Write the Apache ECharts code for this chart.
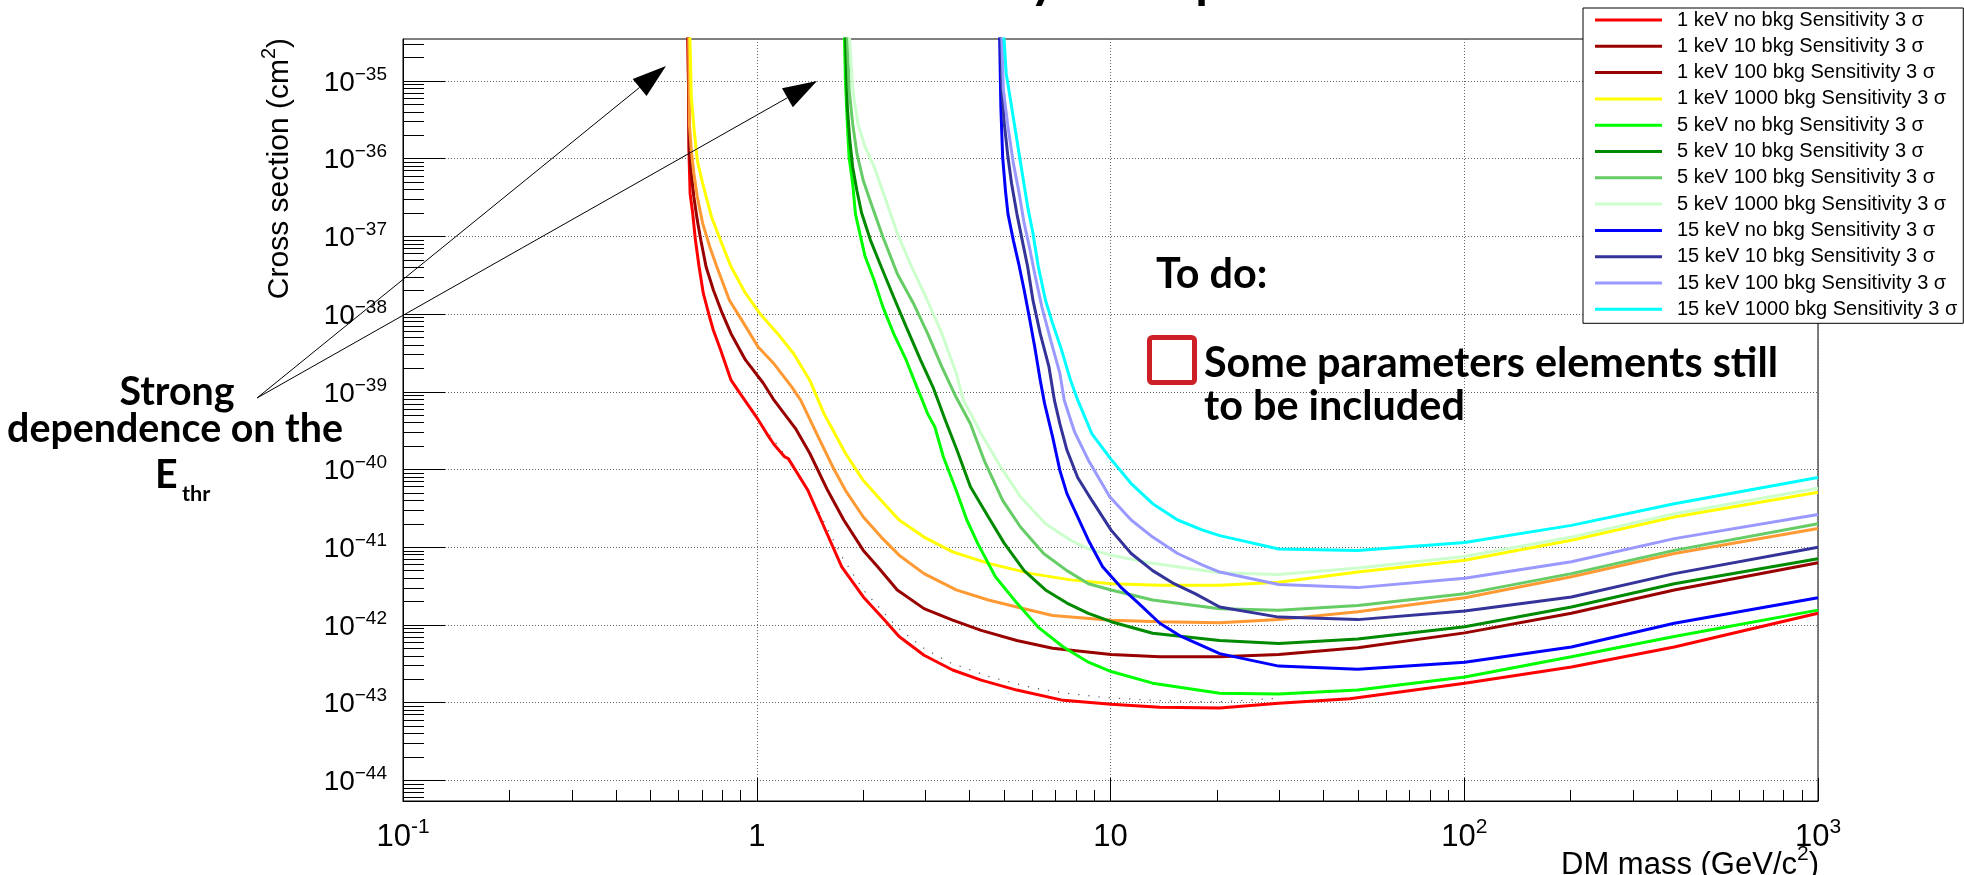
<!DOCTYPE html>
<html>
<head>
<meta charset="utf-8">
<script src="https://cdn.jsdelivr.net/npm/echarts@6/dist/echarts.min.js"></script>
<style>
html,body{margin:0;padding:0;background:#fff;}
#chart{width:1964px;height:875px;}
</style>
</head>
<body>
<div id="chart"></div>
<script>
// ---------------- data ----------------
const xTickValues = [0.1, 1, 10, 100, 1000];
const yTickValues = [1e-44, 1e-43, 1e-42, 1e-41, 1e-40, 1e-39, 1e-38, 1e-37, 1e-36, 1e-35];
const xRange = [0.1, 1000];
const yRange = [5.42e-45, 3.47e-35];

const seriesNames = [
  '1 keV no bkg Sensitivity 3 \u03c3',
  '1 keV 10 bkg Sensitivity 3 \u03c3',
  '1 keV 100 bkg Sensitivity 3 \u03c3',
  '1 keV 1000 bkg Sensitivity 3 \u03c3',
  '5 keV no bkg Sensitivity 3 \u03c3',
  '5 keV 10 bkg Sensitivity 3 \u03c3',
  '5 keV 100 bkg Sensitivity 3 \u03c3',
  '5 keV 1000 bkg Sensitivity 3 \u03c3',
  '15 keV no bkg Sensitivity 3 \u03c3',
  '15 keV 10 bkg Sensitivity 3 \u03c3',
  '15 keV 100 bkg Sensitivity 3 \u03c3',
  '15 keV 1000 bkg Sensitivity 3 \u03c3'
];

// [DM mass (GeV/c^2), cross section (cm^2)]
const e1_noBkg = [[0.636,1e-34],[0.641,1.02e-35],[0.644,1.0e-36],[0.648,3.55e-37],[0.659,2.0e-37],[0.671,8.9e-38],[0.687,4.07e-38],[0.706,1.86e-38],[0.736,9.1e-39],[0.754,6.2e-39],[0.790,3.47e-39],[0.846,1.41e-39],[0.898,9.5e-40],[0.996,4.8e-40],[1.067,2.9e-40],[1.119,2.1e-40],[1.200,1.45e-40],[1.228,1.38e-40],[1.395,5.4e-41],[1.550,1.82e-41],[1.739,5.6e-42],[2.001,2.29e-42],[2.300,1.15e-42],[2.526,7.1e-43],[2.971,4.07e-43],[3.579,2.63e-43],[4.309,1.95e-43],[5.433,1.45e-43],[7.357,1.07e-43],[10.04,9.5e-44],[13.78,8.7e-44],[20.36,8.5e-44],[29.89,9.8e-44],[47.47,1.12e-43],[100.3,1.78e-43],[200.9,2.88e-43],[392.4,5.2e-43],[1000,1.41e-42]];
const e1_10bkg = [[0.638,1e-34],[0.644,1.29e-36],[0.653,6.5e-37],[0.664,3.24e-37],[0.679,1.62e-37],[0.695,8.9e-38],[0.719,4.07e-38],[0.754,2.04e-38],[0.799,1.02e-38],[0.846,5.6e-39],[0.929,2.57e-39],[1.044,1.29e-39],[1.119,7.8e-40],[1.286,3.39e-40],[1.412,1.62e-40],[1.586,5.4e-41],[1.762,2.24e-41],[2.001,9.1e-42],[2.197,5.6e-42],[2.496,2.82e-42],[2.971,1.62e-42],[3.579,1.15e-42],[4.309,8.5e-43],[5.433,6.3e-43],[6.86,5.0e-43],[10.04,4.17e-43],[13.78,3.89e-43],[20.36,3.89e-43],[29.89,4.17e-43],[50.0,5.1e-43],[100.3,7.9e-43],[200.9,1.41e-42],[392.4,2.82e-42],[1000,6.3e-42]];
const e1_100bkg = [[0.641,1e-34],[0.645,2.82e-36],[0.653,1.29e-36],[0.664,6.5e-37],[0.679,3.24e-37],[0.703,1.48e-37],[0.736,7.4e-38],[0.771,4.07e-38],[0.837,1.51e-38],[0.908,8.3e-39],[1.008,3.8e-39],[1.119,2.29e-39],[1.257,1.15e-39],[1.331,7.8e-40],[1.478,2.88e-40],[1.642,1.07e-40],[1.781,5.4e-41],[2.001,2.45e-41],[2.248,1.35e-41],[2.526,7.9e-42],[2.971,4.57e-42],[3.662,2.82e-42],[4.516,2.09e-42],[5.433,1.70e-42],[6.86,1.32e-42],[10.04,1.15e-42],[13.78,1.10e-42],[20.36,1.07e-42],[29.89,1.17e-42],[50.0,1.48e-42],[100.3,2.24e-42],[200.9,4.17e-42],[392.4,8.3e-42],[1000,1.74e-41]];
const e1_1000bkg = [[0.644,1e-34],[0.653,6.3e-36],[0.664,2.57e-36],[0.679,9.5e-37],[0.703,4.8e-37],[0.745,1.78e-37],[0.790,8.9e-38],[0.846,4.07e-38],[0.929,1.86e-38],[1.020,1.02e-38],[1.146,5.6e-39],[1.272,3.09e-39],[1.412,1.41e-39],[1.550,5.2e-40],[1.623,3.55e-40],[1.781,1.62e-40],[2.001,7.2e-41],[2.248,4.0e-41],[2.526,2.24e-41],[2.971,1.35e-41],[3.579,8.7e-42],[4.516,6.2e-42],[5.97,4.57e-42],[7.71,3.8e-42],[10.04,3.39e-42],[13.78,3.24e-42],[20.36,3.24e-42],[29.89,3.55e-42],[50.0,4.79e-42],[100.3,6.8e-42],[200.9,1.23e-41],[392.4,2.45e-41],[1000,5.1e-41]];
const e5_noBkg = [[1.761,1e-34],[1.781,1.02e-35],[1.803,2.82e-36],[1.824,1.05e-36],[1.867,4.8e-37],[1.901,1.95e-37],[1.955,1.10e-37],[2.025,5.5e-38],[2.146,2.75e-38],[2.274,1.23e-38],[2.438,5.6e-39],[2.644,2.57e-39],[2.836,1.15e-39],[2.937,7.8e-40],[3.042,5.2e-40],[3.186,3.55e-40],[3.37,1.45e-40],[3.662,5.4e-41],[3.926,2.24e-41],[4.212,1.12e-41],[4.728,4.17e-42],[5.437,1.91e-42],[6.254,9.3e-43],[7.357,5.2e-43],[8.659,3.31e-43],[10.04,2.51e-43],[13.16,1.78e-43],[20.36,1.32e-43],[29.89,1.29e-43],[50.0,1.45e-43],[100.3,2.14e-43],[200.9,3.89e-43],[392.4,7.1e-43],[1000,1.55e-42]];
const e5_10bkg = [[1.773,1e-34],[1.803,4.68e-36],[1.832,1.74e-36],[1.867,7.9e-37],[1.919,3.89e-37],[1.979,2.0e-37],[2.097,8.9e-38],[2.248,4.07e-38],[2.438,1.66e-38],[2.644,6.9e-39],[2.903,2.57e-39],[3.149,1.15e-39],[3.415,4.27e-40],[3.68,1.78e-40],[4.018,6.0e-41],[4.516,2.45e-41],[5.01,1.12e-41],[5.70,5.0e-42],[6.55,2.82e-42],[7.53,1.91e-42],[8.659,1.41e-42],[10.04,1.10e-42],[13.16,7.8e-43],[20.36,6.3e-43],[29.89,5.75e-43],[50.0,6.6e-43],[100.3,9.5e-43],[200.9,1.70e-42],[392.4,3.39e-42],[1000,7.1e-42]];
const e5_100bkg = [[1.789,1e-34],[1.824,7.8e-36],[1.867,2.82e-36],[1.919,1.17e-36],[2.001,5.2e-37],[2.121,2.4e-37],[2.274,9.8e-38],[2.496,3.31e-38],[2.771,1.38e-38],[3.042,5.6e-39],[3.337,2.09e-39],[3.662,8.5e-40],[4.018,3.89e-40],[4.41,1.26e-40],[4.956,4.0e-41],[5.565,1.82e-41],[6.471,8.3e-42],[7.53,5.0e-42],[8.659,3.39e-42],[10.04,2.82e-42],[13.16,2.09e-42],[20.36,1.62e-42],[29.89,1.55e-42],[50.0,1.78e-42],[100.3,2.51e-42],[200.9,4.57e-42],[392.4,9.1e-42],[1000,2.0e-41]];
const e5_1000bkg = [[1.803,1e-34],[1.867,7.8e-36],[1.932,2.82e-36],[2.025,1.41e-36],[2.146,7.9e-37],[2.300,3.24e-37],[2.496,1.10e-37],[2.739,4.07e-38],[3.006,1.66e-38],[3.337,5.6e-39],[3.662,1.74e-39],[3.837,7.8e-40],[4.066,4.8e-40],[4.309,2.88e-40],[4.956,9.8e-41],[5.565,4.47e-41],[6.55,2.0e-41],[7.71,1.23e-41],[8.659,9.5e-42],[10.04,7.9e-42],[13.16,6.2e-42],[20.36,4.68e-42],[29.89,4.47e-42],[50.0,5.4e-42],[100.3,7.6e-42],[200.9,1.35e-41],[392.4,2.69e-41],[1000,5.75e-41]];
const e15_noBkg = [[4.842,1e-34],[4.898,4.68e-36],[4.956,1.05e-36],[5.047,3.89e-37],[5.130,1.95e-37],[5.314,8.9e-38],[5.500,4.47e-38],[5.70,2.04e-38],[5.895,9.1e-39],[6.105,3.8e-39],[6.33,1.41e-39],[6.51,7.1e-40],[6.86,2.63e-40],[7.19,9.8e-41],[7.53,4.9e-41],[8.075,2.45e-41],[8.659,1.23e-41],[9.50,5.6e-42],[10.67,3.09e-42],[11.99,1.91e-42],[13.78,1.05e-42],[15.84,7.1e-43],[20.36,4.27e-43],[29.89,2.95e-43],[50.0,2.69e-43],[100.3,3.31e-43],[200.9,5.2e-43],[392.4,1.05e-42],[1000,2.24e-42]];
const e15_10bkg = [[4.863,1e-34],[4.931,7.8e-36],[5.010,2.82e-36],[5.130,1.05e-36],[5.252,4.8e-37],[5.437,1.95e-37],[5.630,8.9e-38],[5.832,4.07e-38],[6.036,1.51e-38],[6.33,5.6e-39],[6.70,2.09e-39],[6.94,7.8e-40],[7.19,3.89e-40],[7.53,1.78e-40],[8.075,7.9e-41],[8.86,4.0e-41],[10.04,1.66e-41],[11.44,8.3e-42],[13.16,5.0e-42],[15.12,3.39e-42],[17.39,2.51e-42],[20.36,1.70e-42],[29.89,1.26e-42],[50.0,1.17e-42],[100.3,1.51e-42],[200.9,2.29e-42],[392.4,4.57e-42],[1000,1.0e-41]];
const e15_100bkg = [[4.898,1e-34],[4.978,7.8e-36],[5.130,2.57e-36],[5.314,8.7e-37],[5.500,3.89e-37],[5.70,1.48e-37],[5.895,7.4e-38],[6.105,3.31e-38],[6.40,1.23e-38],[6.78,4.57e-39],[7.19,1.74e-39],[7.40,7.8e-40],[7.92,3.02e-40],[8.659,1.32e-40],[9.95,4.47e-41],[11.44,2.24e-41],[13.16,1.35e-41],[15.48,8.3e-42],[18.22,5.9e-42],[20.36,4.79e-42],[29.89,3.31e-42],[50.0,3.02e-42],[100.3,3.98e-42],[200.9,6.5e-42],[392.4,1.29e-41],[1000,2.63e-41]];
const e15_1000bkg = [[4.931,1e-34],[5.070,1.26e-35],[5.252,4.68e-36],[5.437,1.74e-36],[5.630,6.5e-37],[5.832,2.4e-37],[6.036,1.10e-37],[6.252,4.07e-38],[6.55,1.51e-38],[6.86,7.6e-39],[7.27,3.47e-39],[7.71,1.41e-39],[8.08,7.8e-40],[8.86,2.88e-40],[10.04,1.35e-40],[11.44,6.6e-41],[13.16,3.63e-41],[15.48,2.24e-41],[18.22,1.66e-41],[20.36,1.41e-41],[29.89,9.5e-42],[50.0,9.1e-42],[100.3,1.15e-41],[200.9,1.91e-41],[392.4,3.63e-41],[1000,7.9e-41]];
// faint dotted reference curve (no legend entry)
const dottedRef = [[1.044,3.55e-40],[1.243,1.26e-40],[1.394,5.4e-41],[1.739,7.6e-42],[2.001,2.82e-42],[2.496,9.3e-43],[2.971,5.0e-43],[3.497,3.3e-43],[4.569,2.14e-43],[6.03,1.55e-43],[7.52,1.32e-43],[9.51,1.17e-43],[13.17,1.07e-43],[19.97,1.02e-43],[29.9,1.14e-43]];

const allCurves = [e1_noBkg, e1_10bkg, e1_100bkg, e1_1000bkg, e5_noBkg, e5_10bkg, e5_100bkg, e5_1000bkg, e15_noBkg, e15_10bkg, e15_100bkg, e15_1000bkg];

// ---------------- styles ----------------
const lineColors = ['#ff0000','#990000','#ff9933','#ffff00','#00ff00','#008a00','#66cc66','#ccffcc','#0000ff','#333399','#9999ff','#00ffff'];
const legendIconColors = ['#ff0000','#990000','#990000','#ffff00','#00ff00','#008a00','#66cc66','#ccffcc','#0000ff','#333399','#9999ff','#00ffff'];
const AXF = 'Liberation Sans, Arial, Helvetica, sans-serif';
const ANF = 'Lato, Noto Sans, sans-serif';

// The cross sections are ~1e-44; ECharts' log-axis tick rounding (max 20 decimals) cannot
// handle such tiny numbers, so the y values are handed to the axis in units of 1e-44 cm^2
// and the labels print the true exponent.
const Y_UNIT = 1e44;
const Y_EXP_SHIFT = -44;
const ys = v => v * Y_UNIT;

function minorTicks(lo, hi, d0, d1) {
  const out = [];
  for (let d = d0; d <= d1; d++) for (let k = 2; k <= 9; k++) {
    const v = k * Math.pow(10, d);
    if (v > lo && v < hi) out.push(v);
  }
  return out;
}
const xMinor = minorTicks(xRange[0], xRange[1], -1, 2);
const yMinorScaled = minorTicks(ys(yRange[0]), ys(yRange[1]), -1, 9);
const yTicksScaled = yTickValues.map(ys);

function expLabel(e, minus) {
  if (e === 0) return '{b|1}';
  if (e === 1) return '{b|10}';
  return '{b|10}{s|' + (e < 0 ? minus : '') + Math.abs(e) + '}';
}

const chart = echarts.init(document.getElementById('chart'), null, {renderer: 'canvas'});

const series = allCurves.map((d, i) => ({
  type: 'line', name: seriesNames[i], data: d.map(p => [p[0], ys(p[1])]),
  xAxisIndex: 0, yAxisIndex: 0,
  showSymbol: false, symbol: 'none', smooth: false, clip: true,
  lineStyle: {color: lineColors[i], width: 3},
  itemStyle: {color: lineColors[i]},
  emphasis: {disabled: true}, z: 3
}));
series.push({
  type: 'line', name: 'ref', data: dottedRef.map(p => [p[0], ys(p[1])]), xAxisIndex: 0, yAxisIndex: 0,
  showSymbol: false, symbol: 'none', clip: true,
  lineStyle: {color: '#555', width: 1.2, type: [1.2, 9]}, emphasis: {disabled: true}, z: 2
});

// ---------- text helpers ----------
const mctx = document.createElement('canvas').getContext('2d');
function fitSize(text, family, weight, target) {
  mctx.font = weight + ' 100px ' + family;
  return 100 * target / mctx.measureText(text).width;
}
function baseOff(fs, family, weight) {
  mctx.font = weight + ' ' + fs + 'px ' + family;
  mctx.textBaseline = 'middle';
  return mctx.measureText('H').actualBoundingBoxDescent;
}
function textAt(text, x, baseline, fs, family, weight, align, fill) {
  return {
    type: 'text', x: x, y: baseline - baseOff(fs, family, weight), z: 20,
    style: {text: text, fontSize: fs, fontFamily: family, fontWeight: weight,
            fill: fill || '#000', align: align || 'left', verticalAlign: 'middle'}
  };
}
function arrow(x0, y0, x1, y1, L, W) {
  const dx = x1 - x0, dy = y1 - y0, len = Math.hypot(dx, dy);
  const ux = dx / len, uy = dy / len, nx = -uy, ny = ux;
  const bx = x1 - L * ux, by = y1 - L * uy;
  return [
    {type: 'line', z: 20, shape: {x1: x0, y1: y0, x2: bx, y2: by}, style: {stroke: '#000', lineWidth: 1}},
    {type: 'polygon', z: 20, shape: {points: [[x1, y1], [bx + W * nx, by + W * ny], [bx - W * nx, by - W * ny]]}, style: {fill: '#000'}}
  ];
}

const fsStrong = fitSize('dependence on the', ANF, 700, 336);
const fsNote = fitSize('Some parameters elements still', ANF, 700, 574);
const fsTitle = fitSize('with 1 year exposure', ANF, 700, 479);

const graphics = [
  textAt('with 1 year exposure', 1112, -3, fsTitle, ANF, 700, 'center'),
  textAt('Strong', 177, 405, fsStrong, ANF, 700, 'center'),
  textAt('dependence on the', 175, 442, fsStrong, ANF, 700, 'center'),
  textAt('E', 155, 488, fsStrong, ANF, 700, 'left'),
  textAt('thr', 182, 501, fsStrong * 0.55, ANF, 700, 'left'),
  textAt('To do:', 1156, 288, fsNote, ANF, 700, 'left'),
  textAt('Some parameters elements still', 1204, 377, fsNote, ANF, 700, 'left'),
  textAt('to be included', 1204, 420, fsNote, ANF, 700, 'left'),
  {type: 'rect', z: 20, shape: {x: 1149.5, y: 337.5, width: 45, height: 45, r: 3},
   style: {fill: 'none', stroke: '#cc1f26', lineWidth: 5}},
  ...arrow(257, 398, 666, 66, 34, 11),
  ...arrow(257, 398, 817, 81, 34, 11),
  {type: 'text', z: 20, x: 1819, y: 862,
   style: {text: '{t|DM mass (GeV/c}{s|2}{t|)}', align: 'right', verticalAlign: 'middle',
     rich: {t: {fontSize: 31, fontFamily: AXF, fill: '#000', padding: [6, 0, 0, 0]},
            s: {fontSize: 21, fontFamily: AXF, fill: '#000', verticalAlign: 'top'}}}},
  {type: 'text', z: 20, x: 277, y: 38, rotation: Math.PI / 2,
   style: {text: '{t|Cross section (cm}{s|2}{t|)}', align: 'right', verticalAlign: 'middle',
     rich: {t: {fontSize: 30, fontFamily: AXF, fill: '#000', padding: [6, 0, 0, 0]},
            s: {fontSize: 20, fontFamily: AXF, fill: '#000', verticalAlign: 'top'}}}}
];

const gridLine = {show: true, lineStyle: {color: '#666', width: 1, type: [1, 2]}};

const option = {
  animation: false,
  backgroundColor: '#fff',
  grid: {left: 403, top: 39, width: 1415, height: 762, show: true, borderColor: '#000', borderWidth: 1,
         backgroundColor: 'transparent', containLabel: false, outerBoundsMode: 'none'},
  xAxis: [
    {type: 'log', logBase: 10, min: xRange[0], max: xRange[1], position: 'bottom', splitNumber: 4,
     axisLine: {show: true, onZero: false, lineStyle: {color: '#000', width: 1}},
     axisTick: {show: true, inside: true, length: 23, customValues: xTickValues, lineStyle: {color: '#000', width: 1}},
     minorTick: {show: false},
     axisLabel: {show: true, customValues: xTickValues, margin: 16, color: '#000',
       formatter: v => expLabel(Math.round(Math.log10(v)), '-'),
       rich: {b: {fontSize: 31, fontFamily: AXF, color: '#000', padding: [5, 0, 0, 0]},
              s: {fontSize: 21, fontFamily: AXF, color: '#000', verticalAlign: 'top'}}},
     splitLine: gridLine},
    {type: 'log', logBase: 10, min: xRange[0], max: xRange[1], position: 'bottom',
     axisLine: {show: false}, axisLabel: {show: false}, splitLine: {show: false}, minorTick: {show: false},
     axisTick: {show: true, inside: true, length: 11, customValues: xMinor, lineStyle: {color: '#000', width: 1}}}
  ],
  yAxis: [
    {type: 'log', logBase: 10, min: ys(yRange[0]), max: ys(yRange[1]), position: 'left', splitNumber: 10,
     axisLine: {show: true, onZero: false, lineStyle: {color: '#000', width: 1}},
     axisTick: {show: true, inside: true, length: 42, customValues: yTicksScaled, lineStyle: {color: '#000', width: 1}},
     minorTick: {show: false},
     axisLabel: {show: true, customValues: yTicksScaled, margin: 16, color: '#000',
       formatter: v => expLabel(Math.round(Math.log10(v)) + Y_EXP_SHIFT, '\u2212'),
       rich: {b: {fontSize: 28, fontFamily: AXF, color: '#000', padding: [4, 0, 0, 0]},
              s: {fontSize: 19, fontFamily: AXF, color: '#000', verticalAlign: 'top'}}},
     splitLine: gridLine},
    {type: 'log', logBase: 10, min: ys(yRange[0]), max: ys(yRange[1]), position: 'left',
     axisLine: {show: false}, axisLabel: {show: false}, splitLine: {show: false}, minorTick: {show: false},
     axisTick: {show: true, inside: true, length: 21, customValues: yMinorScaled, lineStyle: {color: '#000', width: 1}}}
  ],
  legend: {
    show: true, orient: 'vertical', left: 1583, top: 8, selectedMode: false,
    backgroundColor: '#fff', borderColor: '#000', borderWidth: 1, borderRadius: 0,
    padding: [2, 6, 4, 12], itemGap: 6.3, itemWidth: 67, itemHeight: 3, icon: 'rect',
    textStyle: {fontFamily: AXF, fontSize: 20, color: '#000', lineHeight: 20, padding: [0, 0, 0, 10]},
    data: seriesNames.map((n, i) => ({name: n, icon: 'rect', itemStyle: {color: legendIconColors[i], borderWidth: 0}})),
    z: 10
  },
  series: series
};
chart.setOption(option);
chart.setOption({graphic: {elements: graphics}});
</script>
</body>
</html>
